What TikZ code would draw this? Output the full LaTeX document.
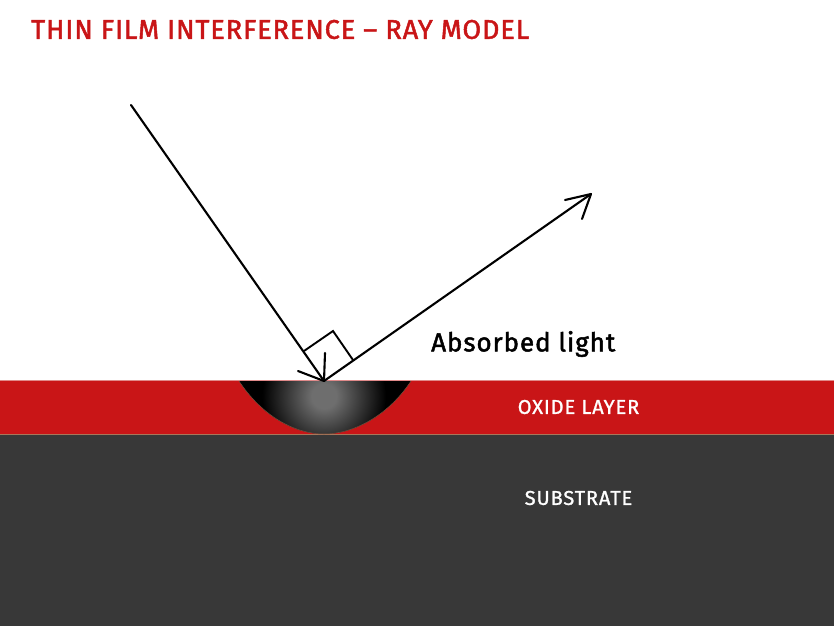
\documentclass[tikz,border=0pt]{standalone}
\usepackage{fontspec}
\setmainfont{Fira Sans}
\newfontfamily\titlefont[LetterSpace=3.5,FakeBold=1.8]{Fira Sans}
\newfontfamily\labelfont[LetterSpace=3.6,FakeBold=1.8]{Fira Sans}
\newfontfamily\whitefont[LetterSpace=4.5,FakeBold=1.3]{Fira Sans}
\definecolor{filmred}{HTML}{C91517}
\definecolor{subdark}{HTML}{383838}
\definecolor{topedge}{HTML}{E08A8A}
\definecolor{midedge}{HTML}{A8765A}
\definecolor{glowcore}{HTML}{6E6E6E}
\pgfdeclareradialshading{bowlglow}{\pgfpointorigin}{color(0bp)=(glowcore); color(5bp)=(glowcore); color(25bp)=(black); color(50bp)=(black)}
\tikzset{
  px/.style={x=1pt,y=-1pt},
  rayline/.style={draw=black,line width=2.1pt,line cap=round,line join=round},
  thinline/.style={draw=black,line width=1.9pt,line join=miter},
  titletext/.style={text=filmred,font=\titlefont\fontsize{27}{27}\selectfont,anchor=west,inner sep=0pt},
  darktext/.style={text=black,font=\labelfont\fontsize{26}{26}\selectfont,anchor=west,inner sep=0pt},
  whitetext/.style={text=white,font=\whitefont\fontsize{20}{20}\selectfont,inner sep=0pt}
}
\begin{document}
\begin{tikzpicture}[px]
\useasboundingbox (0,0) rectangle (834,626);
\fill[white] (0,0) rectangle (834,626);
\fill[filmred] (0,381) rectangle (834,434);
\fill[subdark] (0,434) rectangle (834,626);
\draw[topedge,line width=.7pt] (0,380.6) -- (834,380.6);
\draw[midedge,line width=.7pt] (0,434) -- (834,434);
% bowl
\begin{scope}
\clip (239,381) .. controls (262,416) and (295,434) .. (324,434) .. controls (353,434) and (388,416) .. (411,381) -- cycle;
\fill[black] (230,375) rectangle (420,440);
\shade[shading=bowlglow] (324,396) circle (62);
\end{scope}
\draw[midedge!70!black,line width=.5pt] (239,381) .. controls (262,416) and (295,434) .. (324,434) .. controls (353,434) and (388,416) .. (411,381);
% rays
\coordinate (start) at (131,105);
\coordinate (hit) at (324,381);
\coordinate (end) at (591,194);
\coordinate (b1) at (298,371);
\coordinate (b2) at (325,353);
\coordinate (e1) at (565,200);
\coordinate (e2) at (582,219);
\coordinate (s1) at (304,351);
\coordinate (s2) at (333,331);
\coordinate (s3) at (353,360);
\draw[rayline] (start) -- (hit) -- (end);
\draw[rayline] (b1) -- (hit) -- (b2);
\draw[rayline] (e1) -- (end) -- (e2);
\draw[thinline] (s1) -- (s2) -- (s3);
% text
\node[titletext] (title) at (31,29.5) {THIN FILM INTERFERENCE – RAY MODEL};
\node[darktext] (absorbed) at (431,344) {Absorbed light};
\node[whitetext] (oxide) at (578.5,407) {OXIDE LAYER};
\node[whitetext] (substrate) at (578.5,498) {SUBSTRATE};
\end{tikzpicture}
\end{document}
